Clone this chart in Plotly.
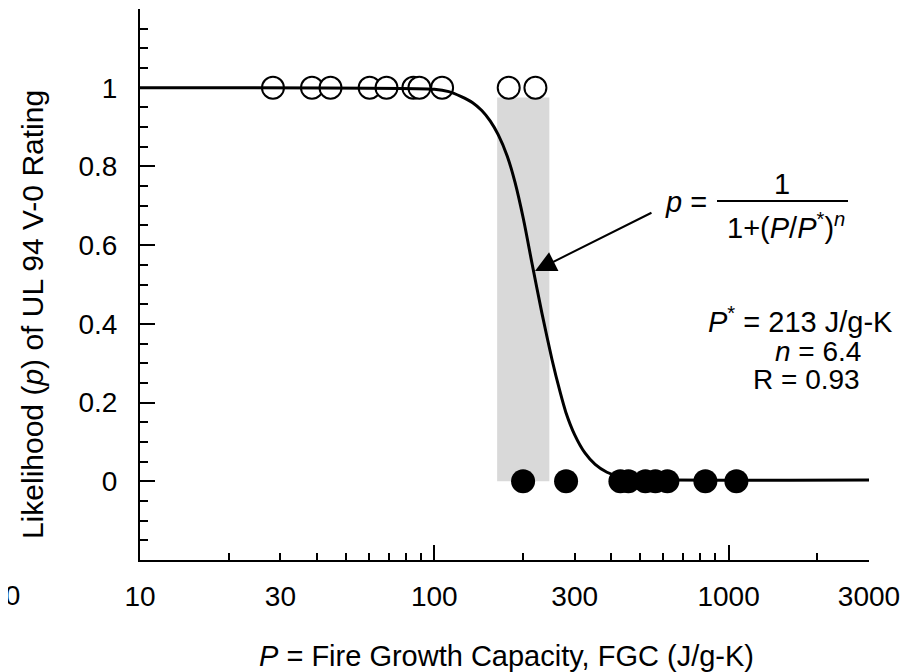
import plotly.graph_objects as go

# ---------------- data ----------------
open_P = [28.3, 38.4, 44.4, 60.3, 68.8, 84.9, 89.0, 106.3, 179.0, 220.6]
open_p = [1, 1, 1, 1, 1, 1, 1, 1, 1, 1]

filled_P = [200.3, 280.4, 428.9, 456.5, 521.6, 564.0, 619.4, 834.0, 1063.0]
filled_p = [0, 0, 0, 0, 0, 0, 0, 0, 0]

curve_P = [10, 100, 112, 123, 135, 145, 155, 165, 177, 188, 201, 215, 232,
           251, 268, 280, 300, 325, 352, 386, 430, 500, 3000]
curve_p = [1, 0.996, 0.99, 0.978, 0.962, 0.942, 0.915, 0.88, 0.826, 0.76,
           0.665, 0.552, 0.428, 0.31, 0.225, 0.175, 0.118, 0.072, 0.043,
           0.023, 0.011, 0.005, 0.003]

band_P = [163.5, 246.0]
band_p = [0, 0.975]

x_tick_vals = [10, 30, 100, 300, 1000, 3000]
x_tick_text = ["10", "30", "100", "300", "1000", "3000"]
x_minor_vals = [20, 40, 50, 60, 70, 80, 90, 200, 400, 500, 600, 700, 800,
                900, 2000]
x_long_vals = [100, 1000]

y_tick_vals = [0, 0.2, 0.4, 0.6, 0.8, 1.0, 1.2]
y_tick_text = ["0", "0.2", "0.4", "0.6", "0.8", "1", ""]
y_minor_vals = [-0.15, -0.1, -0.05, 0.05, 0.1, 0.15, 0.25, 0.3, 0.35, 0.45,
                0.5, 0.55, 0.65, 0.7, 0.75, 0.85, 0.9, 0.95, 1.05, 1.1, 1.15]

FONT = "Liberation Sans, Arial, Helvetica, sans-serif"
X_RANGE = [1, 3.4771]

fig = go.Figure()

# shaded band
fig.add_trace(go.Scatter(
    x=[band_P[0], band_P[1], band_P[1], band_P[0], band_P[0]],
    y=[band_p[0], band_p[0], band_p[1], band_p[1], band_p[0]],
    fill="toself", fillcolor="#d9d9d9", mode="lines",
    line=dict(width=0, color="#d9d9d9"), hoverinfo="skip", showlegend=False,
    xaxis="x", yaxis="y"))

# fitted curve (on overlay axis that carries the long ticks)
fig.add_trace(go.Scatter(
    x=curve_P, y=curve_p, mode="lines",
    line=dict(color="black", width=3, shape="spline", smoothing=0.6),
    showlegend=False, xaxis="x2", yaxis="y"))

# open circles (passed V-0)
fig.add_trace(go.Scatter(
    x=open_P, y=open_p, mode="markers",
    marker=dict(size=22, color="white", line=dict(color="black", width=2)),
    showlegend=False, xaxis="x", yaxis="y"))

# filled circles (failed)
fig.add_trace(go.Scatter(
    x=filled_P, y=filled_p, mode="markers",
    marker=dict(size=24, color="black", line=dict(color="black", width=0)),
    showlegend=False, xaxis="x", yaxis="y"))

# the page body has an 8 px margin, so the figure is 8 px smaller
fig.update_layout(
    width=910, height=664,
    margin=dict(l=132, r=49, t=1, b=112),
    plot_bgcolor="white", paper_bgcolor="white",
    font=dict(family=FONT, size=28, color="black"),
    xaxis=dict(
        type="log", range=X_RANGE, showgrid=False, zeroline=False,
        showline=True, linecolor="black", linewidth=2,
        tickmode="array", tickvals=x_tick_vals, ticktext=x_tick_text,
        ticks="inside", ticklen=7, tickwidth=2, tickcolor="black",
        ticklabelstandoff=10,
        tickfont=dict(size=28, family=FONT),
        minor=dict(tickmode="array", tickvals=x_minor_vals, ticks="inside",
                   ticklen=7, tickwidth=2, tickcolor="black", showgrid=False),
    ),
    xaxis2=dict(
        type="log", range=X_RANGE, overlaying="x", anchor="y", side="bottom",
        showgrid=False, zeroline=False, showline=False,
        tickmode="array", tickvals=x_long_vals, showticklabels=False,
        ticks="inside", ticklen=15, tickwidth=2, tickcolor="black",
    ),
    yaxis=dict(
        range=[-0.2, 1.2], showgrid=False, zeroline=False,
        showline=True, linecolor="black", linewidth=2,
        tickmode="array", tickvals=y_tick_vals, ticktext=y_tick_text,
        ticks="inside", ticklen=15, tickwidth=2, tickcolor="black",
        ticklabelstandoff=15,
        tickfont=dict(size=28, family=FONT),
        minor=dict(tickmode="array", tickvals=y_minor_vals, ticks="inside",
                   ticklen=8, tickwidth=2, tickcolor="black", showgrid=False),
    ),
)

ann = []
# axis titles
ann.append(dict(text="<i>P</i> = Fire Growth Capacity, FGC (J/g-K)",
                xref="paper", yref="paper", x=0.5034, y=-0.1742,
                xanchor="center", yanchor="middle", showarrow=False,
                font=dict(size=29, family=FONT)))
ann.append(dict(text="Likelihood (<i>p</i>) of UL 94 V-0 Rating",
                xref="paper", yref="paper", x=-0.1481, y=0.4446,
                xanchor="center", yanchor="middle", textangle=-90,
                showarrow=False, font=dict(size=30, family=FONT)))
# clipped fragment at far left edge
ann.append(dict(text="1000", xref="paper", yref="paper", x=-0.162,
                y=-0.0653, xanchor="right", yanchor="middle",
                showarrow=False, font=dict(size=28, family=FONT)))
# equation
ann.append(dict(text="<i>p</i> =", xref="paper", yref="paper", x=0.749,
                y=0.6497, xanchor="center", yanchor="middle",
                showarrow=False, font=dict(size=29, family=FONT)))
ann.append(dict(text="1", xref="paper", yref="paper", x=0.8807, y=0.6824,
                xanchor="center", yanchor="middle", showarrow=False,
                font=dict(size=29, family=FONT)))
ann.append(dict(text="1+(<i>P</i>/<i>P</i><sup>*</sup>)<sup><i>n</i></sup>",
                xref="paper", yref="paper", x=0.8868, y=0.606,
                xanchor="center", yanchor="middle", showarrow=False,
                font=dict(size=29, family=FONT)))
# fit parameters
ann.append(dict(text="<i>P</i><sup>*</sup> = 213 J/g-K", xref="paper",
                yref="paper", x=0.906, y=0.4355, xanchor="center",
                yanchor="middle", showarrow=False,
                font=dict(size=29, family=FONT)))
ann.append(dict(text="<i>n</i> = 6.4", xref="paper", yref="paper", x=0.930,
                y=0.3793, xanchor="center", yanchor="middle",
                showarrow=False, font=dict(size=28, family=FONT)))
ann.append(dict(text="R = 0.93", xref="paper", yref="paper", x=0.9136,
                y=0.3267, xanchor="center", yanchor="middle",
                showarrow=False, font=dict(size=28, family=FONT)))
# arrow
ann.append(dict(text="", xref="paper", yref="paper", x=0.5418, y=0.5245,
                ax=118, ay=-59, showarrow=True, arrowhead=2, arrowsize=2.1,
                arrowwidth=2, arrowcolor="black"))
fig.update_layout(annotations=ann)

# fraction bar
fig.add_shape(type="line", xref="paper", yref="paper", x0=0.7915, x1=0.9712,
              y0=0.6515, y1=0.6515, line=dict(color="black", width=2))

fig.write_html("out.html")
